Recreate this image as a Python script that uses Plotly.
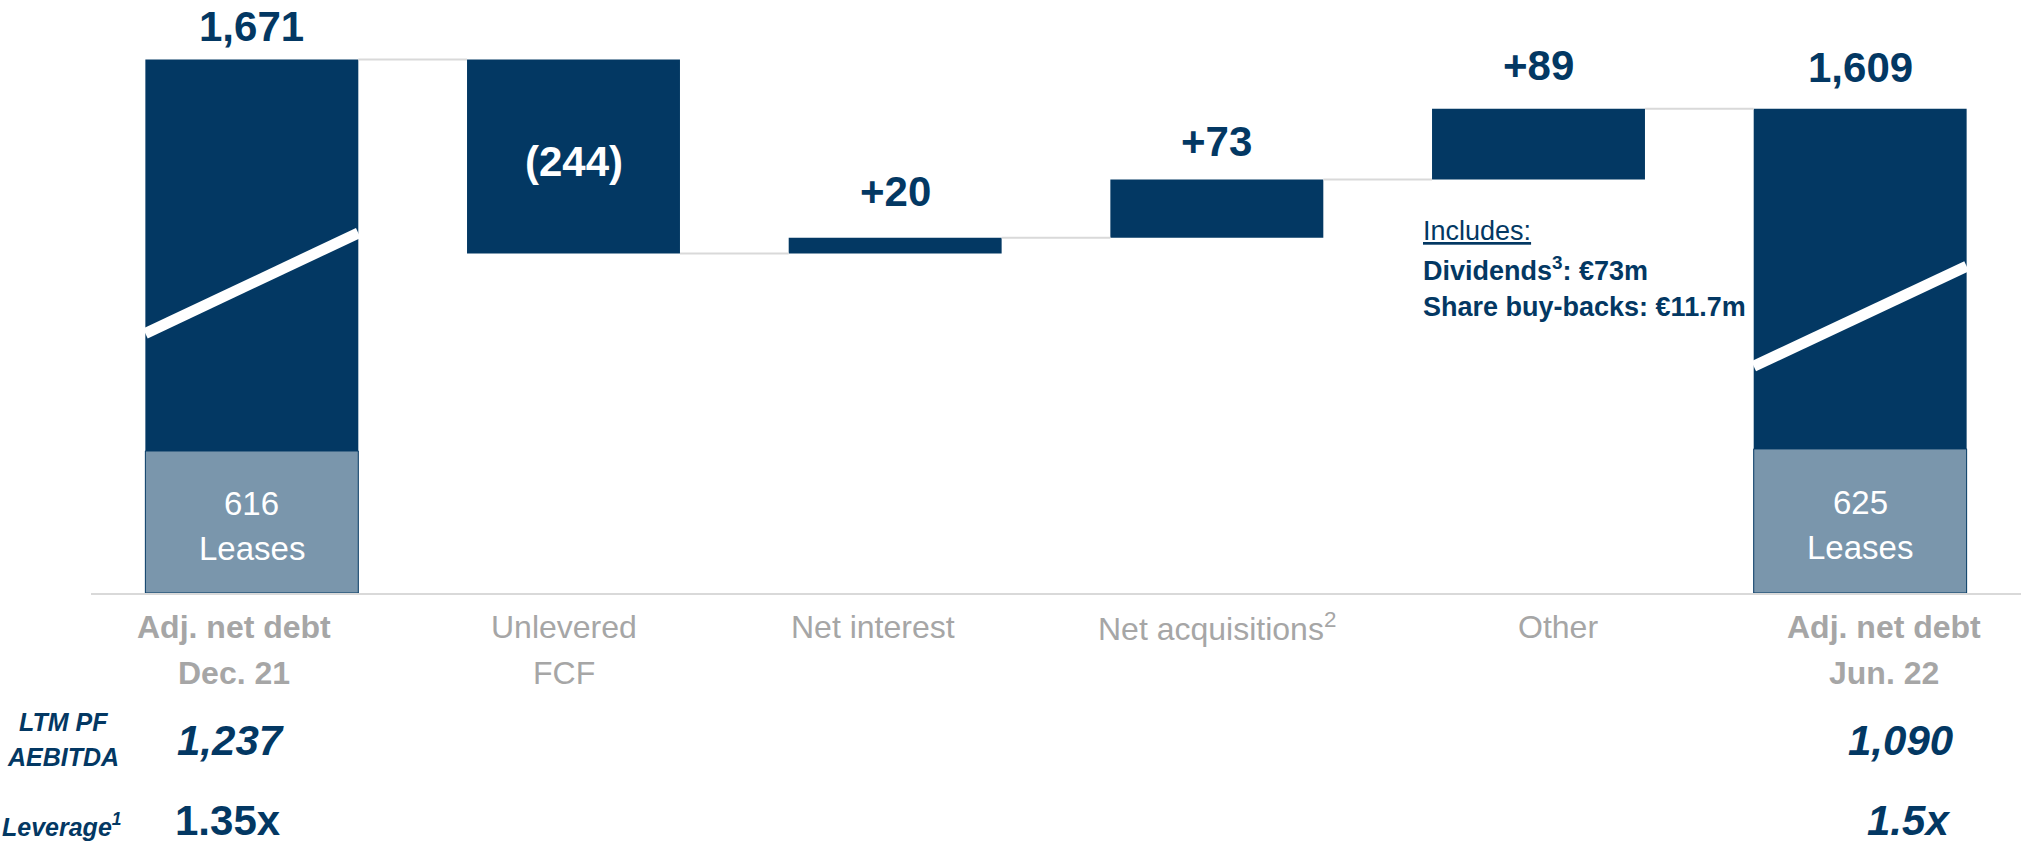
import plotly.graph_objects as go

# ---------------- data ----------------
categories = ["Adj. net debt<br>Dec. 21", "Unlevered<br>FCF", "Net interest",
              "Net acquisitions<sup>2</sup>", "Other", "Adj. net debt<br>Jun. 22"]
category_bold = [True, False, False, False, False, True]
opening_debt = 1671
closing_debt = 1609
movements = [-244, 20, 73, 89]
movement_labels = ["(244)", "+20", "+73", "+89"]
total_labels = ["1,671", "1,609"]
leases = [616, 625]
lease_labels = ["616", "625"]
aebitda_labels = ["1,237", "1,090"]
leverage_labels = ["1.35x", "1.5x"]

# ---------------- style ----------------
NAVY = "#033863"
LEASE = "#7a96ac"
GREY_TXT = "#a6a6a6"
CONN = "#d9d9d9"
FONT = "Liberation Sans, Arial, sans-serif"
W, H = 2021, 846
ML, MB = 91, 253
PLOT_W, PLOT_H = W - ML, H - MB
PX_PER_UNIT = 0.795          # screen pixels per display unit
AXIS_BREAK = 1000            # amount cut out of the total bars (broken axis)
LEASE_SCALE = 0.29           # lease part drawn on its own compressed scale
BAR_W = 0.662
TOTAL_LABEL_GAP = [33, 41]           # px between bar top and label centre
MOVE_LABEL_GAP = [-5, 46, 38, 43]    # first one: offset inside the bar

def disp(level):
    return level - AXIS_BREAK

def pxp(x):  # pixel x -> paper
    return (x - ML) / PLOT_W

def pyp(y):  # pixel y -> paper
    return (PLOT_H - y) / PLOT_H

# running levels
levels = [opening_debt]
for m in movements:
    levels.append(levels[-1] + m)

n = len(categories)
xs = list(range(n))
tot_x = [0, n - 1]
tot_vals = [opening_debt, closing_debt]

fig = go.Figure()

# connectors
for i in range(n - 1):
    lvl = levels[i]
    fig.add_trace(go.Scatter(x=[i + BAR_W / 2, i + 1 - BAR_W / 2], y=[disp(lvl), disp(lvl)],
                             mode="lines", line=dict(color=CONN, width=2),
                             hoverinfo="skip", showlegend=False))

# lease part of total bars
lease_disp = [v * LEASE_SCALE for v in leases]
fig.add_trace(go.Bar(x=tot_x, y=lease_disp, width=BAR_W, marker=dict(color=LEASE, line=dict(color=NAVY, width=1)),
                     showlegend=False, hoverinfo="skip"))
# debt excl. leases (upper part)
fig.add_trace(go.Bar(x=tot_x, y=[disp(t) - l for t, l in zip(tot_vals, lease_disp)], base=lease_disp,
                     width=BAR_W, marker=dict(color=NAVY, line=dict(width=0)), showlegend=False, hoverinfo="skip"))
# floating movement bars
fig.add_trace(go.Bar(x=xs[1:-1], y=movements, base=[disp(l) for l in levels[:-1]], width=BAR_W,
                     marker=dict(color=NAVY, line=dict(width=0)), showlegend=False, hoverinfo="skip"))

# axis break markers (white slanted band)
break_fr = [(0.30, 0.557), (0.243, 0.537)]
for x, t, l, (f0, f1) in zip(tot_x, tot_vals, lease_disp, break_fr):
    top = disp(t)
    fig.add_shape(type="line", xref="x", yref="y",
                  x0=x - BAR_W / 2, x1=x + BAR_W / 2,
                  y0=l + f0 * (top - l), y1=l + f1 * (top - l),
                  line=dict(color="white", width=11))

ann = []
def txt(**kw):
    kw.setdefault("showarrow", False)
    kw.setdefault("xanchor", "center")
    kw.setdefault("yanchor", "middle")
    ann.append(kw)

# total labels above
for x, t, lab, g in zip(tot_x, tot_vals, total_labels, TOTAL_LABEL_GAP):
    txt(x=x, y=disp(t), xref="x", yref="y", text=f"<b>{lab}</b>", yshift=g,
        font=dict(size=42, color=NAVY, family=FONT))
# movement labels
for i, (m, lab, g) in enumerate(zip(movements, movement_labels, MOVE_LABEL_GAP)):
    x = i + 1
    if m < 0:
        txt(x=x, y=disp(levels[i]) + m / 2, xref="x", yref="y", text=f"<b>{lab}</b>", yshift=g,
            font=dict(size=42, color="white", family=FONT))
    else:
        txt(x=x, y=disp(levels[i + 1]), xref="x", yref="y", text=f"<b>{lab}</b>", yshift=g,
            font=dict(size=42, color=NAVY, family=FONT))
# lease labels (two lines)
for x, l, lab in zip(tot_x, lease_disp, lease_labels):
    for t_, dy in ((lab, 18), ("Leases", -27)):
        txt(x=x, y=l / 2, xref="x", yref="y", text=t_, yshift=dy,
            font=dict(size=33, color="white", family=FONT))
# category labels, one annotation per line
label_shift = [-18, -10, -22, 0, 19, 24]
for i, (c, b) in enumerate(zip(categories, category_bold)):
    for k, line in enumerate(c.split("<br>")):
        txt(x=i, y=pyp(627 + 46 * k), xref="x", yref="paper", text=f"<b>{line}</b>" if b else line,
            xshift=label_shift[i], font=dict(size=32, color=GREY_TXT, family=FONT))
# includes note
note_lines = ["<u>Includes:</u>", "<b>Dividends<sup>3</sup>: €73m</b>", "<b>Share buy-backs: €11.7m</b>"]
for k, line in enumerate(note_lines):
    txt(x=pxp(1421), y=pyp(231 + 38 * k), xref="paper", yref="paper", xanchor="left", align="left",
        text=line, font=dict(size=27, color=NAVY, family=FONT))
# bottom rows
for k, line in enumerate(["LTM PF", "AEBITDA"]):
    txt(x=pxp(63), y=pyp(722 + 35 * k), xref="paper", yref="paper", text=f"<b><i>{line}</i></b>",
        font=dict(size=25, color=NAVY, family=FONT))
txt(x=pxp(62), y=pyp(843), xref="paper", yref="paper", yanchor="bottom",
    text="<b><i>Leverage<sup>1</sup></i></b>", font=dict(size=25, color=NAVY, family=FONT))
txt(x=pxp(230), y=pyp(740), xref="paper", yref="paper", text=f"<b><i>{aebitda_labels[0]}</i></b>",
    font=dict(size=42, color=NAVY, family=FONT))
txt(x=pxp(1900), y=pyp(740), xref="paper", yref="paper", text=f"<b><i>{aebitda_labels[1]}</i></b>",
    font=dict(size=42, color=NAVY, family=FONT))
txt(x=pxp(228), y=pyp(846), xref="paper", yref="paper", yanchor="bottom", text=f"<b>{leverage_labels[0]}</b>",
    font=dict(size=42, color=NAVY, family=FONT))
txt(x=pxp(1908), y=pyp(846), xref="paper", yref="paper", yanchor="bottom", text=f"<b><i>{leverage_labels[1]}</i></b>",
    font=dict(size=42, color=NAVY, family=FONT))

fig.update_layout(
    width=W, height=H, margin=dict(l=ML, r=0, t=0, b=MB, pad=0),
    paper_bgcolor="white", plot_bgcolor="white", barmode="overlay",
    xaxis=dict(range=[-0.5, n - 0.5], showticklabels=False, showgrid=False, zeroline=False,
               showline=True, linecolor=CONN, linewidth=2, ticks=""),
    yaxis=dict(range=[0, PLOT_H / PX_PER_UNIT], visible=False, fixedrange=True),
    annotations=ann, font=dict(family=FONT),
)
fig.write_html("out.html")
